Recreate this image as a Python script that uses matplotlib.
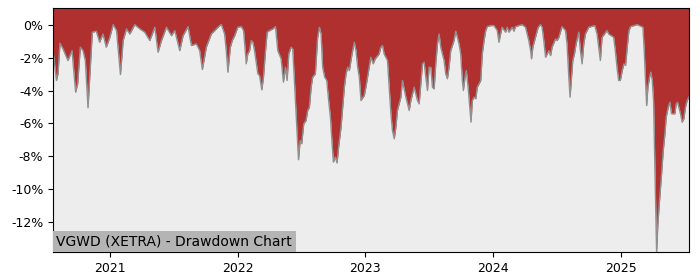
import numpy as np
import pandas as pd
import matplotlib
matplotlib.use("Agg")
import matplotlib.pyplot as plt
from matplotlib.ticker import FuncFormatter

dd_years = [
    2020.557, 2020.584, 2020.596, 2020.612, 2020.635, 2020.674, 2020.706, 2020.734, 2020.750, 2020.771,
    2020.792, 2020.810, 2020.831, 2020.849, 2020.865, 2020.896, 2020.922, 2020.948, 2020.974, 2021.000,
    2021.026, 2021.052, 2021.083, 2021.104, 2021.130, 2021.156, 2021.195, 2021.234, 2021.273, 2021.3125,
    2021.352, 2021.377, 2021.404, 2021.443, 2021.482, 2021.508, 2021.547, 2021.573, 2021.612, 2021.638,
    2021.677, 2021.703, 2021.724, 2021.755, 2021.794, 2021.833, 2021.859, 2021.873, 2021.898, 2021.911,
    2021.924, 2021.943, 2021.958, 2021.977, 2022.002, 2022.029, 2022.047, 2022.0625, 2022.068, 2022.080,
    2022.094, 2022.107, 2022.120, 2022.133, 2022.159, 2022.172, 2022.190, 2022.203, 2022.219, 2022.232,
    2022.250, 2022.276, 2022.297, 2022.315, 2022.341, 2022.359, 2022.375, 2022.388, 2022.401, 2022.419,
    2022.432, 2022.453, 2022.463, 2022.477, 2022.490, 2022.502, 2022.518, 2022.536, 2022.549, 2022.5625,
    2022.576, 2022.588, 2022.609, 2022.627, 2022.641, 2022.654, 2022.666, 2022.682, 2022.698, 2022.713,
    2022.727, 2022.740, 2022.750, 2022.766, 2022.779, 2022.791, 2022.810, 2022.823, 2022.836, 2022.849,
    2022.862, 2022.875, 2022.896, 2022.914, 2022.927, 2022.940, 2022.953, 2022.966, 2022.992, 2023.005,
    2023.018, 2023.031, 2023.044, 2023.0625, 2023.078, 2023.109, 2023.122, 2023.135, 2023.148, 2023.174,
    2023.1875, 2023.201, 2023.213, 2023.227, 2023.240, 2023.252, 2023.279, 2023.291, 2023.318, 2023.344,
    2023.357, 2023.383, 2023.409, 2023.422, 2023.435, 2023.448, 2023.461, 2023.474, 2023.487, 2023.500,
    2023.513, 2023.526, 2023.539, 2023.552, 2023.565, 2023.578, 2023.591, 2023.617, 2023.630, 2023.643,
    2023.656, 2023.669, 2023.695, 2023.708, 2023.721, 2023.734, 2023.747, 2023.760, 2023.768, 2023.781,
    2023.791, 2023.805, 2023.818, 2023.828, 2023.838, 2023.852, 2023.865, 2023.877, 2023.904, 2023.916,
    2023.930, 2023.943, 2023.955, 2023.982, 2024.008, 2024.034, 2024.047, 2024.060, 2024.072, 2024.099,
    2024.112, 2024.125, 2024.151, 2024.164, 2024.177, 2024.229, 2024.255, 2024.268, 2024.281, 2024.295,
    2024.302, 2024.3125, 2024.333, 2024.354, 2024.373, 2024.385, 2024.398, 2024.412, 2024.4375, 2024.451,
    2024.463, 2024.490, 2024.502, 2024.516, 2024.541, 2024.568, 2024.580, 2024.594, 2024.604, 2024.615,
    2024.625, 2024.638, 2024.651, 2024.672, 2024.685, 2024.698, 2024.711, 2024.724, 2024.750, 2024.797,
    2024.815, 2024.828, 2024.841, 2024.854, 2024.893, 2024.906, 2024.945, 2024.958, 2024.971, 2024.984,
    2024.997, 2025.010, 2025.023, 2025.036, 2025.049, 2025.0625, 2025.076, 2025.127, 2025.172, 2025.182,
    2025.193, 2025.201, 2025.211, 2025.224, 2025.234, 2025.245, 2025.255, 2025.263, 2025.271, 2025.279,
    2025.289, 2025.302, 2025.318, 2025.331, 2025.344, 2025.354, 2025.370, 2025.383, 2025.396, 2025.422,
    2025.432, 2025.443, 2025.453, 2025.466, 2025.479, 2025.492, 2025.505, 2025.518, 2025.531,
]
dd_pct = [
    -1.58, -3.39, -2.99, -1.13, -1.47, -2.18, -1.58, -4.10, -3.60, -1.37,
    -1.58, -2.18, -5.05, -2.59, -0.46, -0.40, -1.07, -0.57, -1.37, -0.77,
    0.00, -0.36, -3.03, -0.97, -0.26, -0.57, 0.00, -0.26, -0.46, -0.97,
    -0.16, -1.68, -0.97, -0.16, -0.67, -0.36, -1.58, -0.67, -0.12, -1.27,
    -1.17, -1.58, -2.73, -1.37, -0.57, -0.26, -0.06, 0.00, -0.57, -1.58,
    -2.89, -1.37, -0.97, -0.67, -0.16, -0.12, -0.36, -1.78, -2.38, -1.78,
    -1.58, -0.97, -1.07, -1.58, -2.99, -3.09, -3.96, -3.19, -1.58, -0.46,
    -0.36, -0.26, -0.12, -1.58, -2.08, -3.49, -2.59, -3.39, -1.78, -1.37,
    -1.47, -4.61, -6.22, -8.20, -7.03, -7.23, -6.02, -5.82, -5.21, -5.01,
    -3.80, -3.19, -2.99, -0.77, -0.16, -0.57, -2.59, -3.19, -3.39, -4.61,
    -5.62, -7.23, -8.34, -8.04, -8.40, -7.43, -6.22, -5.01, -3.80, -2.99,
    -2.59, -2.79, -1.78, -1.07, -1.58, -2.59, -3.19, -4.61, -4.30, -3.80,
    -3.19, -2.59, -1.98, -2.38, -2.08, -1.78, -1.37, -1.27, -1.78, -2.18,
    -3.80, -5.41, -6.42, -6.93, -6.22, -5.21, -4.40, -3.39, -4.40, -5.21,
    -4.61, -3.80, -4.61, -4.81, -3.60, -2.38, -2.28, -3.19, -4.00, -2.59,
    -2.59, -3.80, -3.90, -2.38, -1.17, -0.57, -1.37, -2.18, -2.99, -3.29,
    -2.59, -1.58, -0.97, -0.40, -0.77, -1.17, -1.78, -3.39, -4.00, -3.19,
    -2.79, -3.80, -5.01, -5.92, -4.61, -4.40, -4.50, -3.80, -3.39, -1.78,
    -0.97, -0.36, -0.12, -0.06, -0.06, -0.36, -1.07, -0.57, -0.16, -0.46,
    -0.16, -0.46, -0.16, -0.40, -0.12, 0.00, -0.16, -0.57, -0.97, -1.58,
    -2.08, -1.37, -0.77, -0.16, 0.00, -0.16, -0.97, -1.98, -1.58, -1.88,
    -1.37, -0.87, -0.97, -0.77, -0.12, -0.36, -1.17, -3.19, -4.40, -3.19,
    -2.18, -1.78, -1.17, -0.46, -1.58, -2.38, -1.17, -0.57, -0.16, -0.06,
    -0.57, -1.37, -2.18, -0.77, -0.36, -0.57, -0.77, -1.58, -2.59, -3.39,
    -3.39, -2.79, -2.38, -2.48, -1.37, -0.36, -0.12, 0.00, -0.16, -1.58,
    -3.60, -4.91, -3.80, -3.19, -2.89, -3.39, -4.61, -7.64, -10.67, -13.80,
    -12.08, -10.67, -9.05, -7.64, -6.63, -5.62, -5.01, -4.71, -5.41, -5.41,
    -4.81, -4.71, -5.01, -5.41, -5.92, -5.72, -5.01, -4.61, -4.40,
]

title_text = "VGWD (XETRA) - Drawdown Chart"


def year_to_date(y):
    base = pd.Timestamp(year=int(y), month=1, day=1)
    return base + pd.Timedelta(days=(y - int(y)) * 365.25)


dates = [year_to_date(y) for y in dd_years]
dd = np.array(dd_pct)

fig = plt.figure(figsize=(7, 2.8), dpi=100)
ax = fig.add_axes([0.0757, 0.1, 0.9083, 0.871])
ax.set_facecolor("#ededed")

top = 1.0
ax.fill_between(dates, dd, top, color="#b03030", lw=0)
ax.plot(dates, dd, color="#909090", lw=1)

ax.set_xlim(dates[0], dates[-1])
ax.set_ylim(dd.min(), top)
ax.set_yticks([0, -2, -4, -6, -8, -10, -12])
ax.yaxis.set_major_formatter(FuncFormatter(lambda v, p: "%d%%" % v))
ax.set_xticks([pd.Timestamp(str(y)) for y in range(2021, 2026)])
ax.set_xticklabels([str(y) for y in range(2021, 2026)])
ax.tick_params(labelsize=9)

ax.annotate(title_text, xy=(0, 0), xycoords="axes fraction",
            xytext=(2.5, 2.5), textcoords="offset points",
            ha="left", va="bottom", fontsize=10,
            bbox=dict(facecolor="#b4b4b4", edgecolor="none", pad=2.5))

fig.savefig("out.png", dpi=100)
